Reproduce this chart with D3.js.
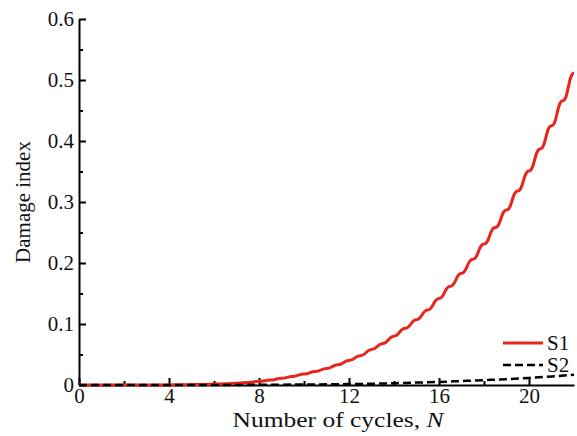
<!DOCTYPE html>
<html>
<head>
<meta charset="utf-8">
<script src="https://cdn.jsdelivr.net/npm/d3@7"></script>
<style>
  body { margin: 0; background: #fff; }
  svg text { font-family: "Liberation Serif", "Times New Roman", "DejaVu Serif", serif !important; }
</style>
</head>
<body>
<svg id="chart" width="577" height="436"></svg>
<script>
// cycles, every half cycle (S1 rises in steps each half cycle)
const cyclesS1 = [0, 0.5, 1, 1.5, 2, 2.5, 3, 3.5, 4, 4.5, 5, 5.5, 6, 6.5, 7, 7.5, 8, 8.5, 9, 9.5,
  10, 10.5, 11, 11.5, 12, 12.5, 13, 13.5, 14, 14.5, 15, 15.5, 16, 16.5, 17, 17.5, 18, 18.5, 19, 19.5,
  20, 20.5, 21, 21.5, 22];
const damageS1 = [0, 0, 0, 0, 0, 0, 0, 0.0001, 0.0002, 0.0004, 0.0007, 0.001, 0.0015, 0.002, 0.003, 0.004,
  0.006, 0.008, 0.011, 0.014, 0.018, 0.022, 0.027, 0.033, 0.04, 0.048, 0.058, 0.068, 0.08, 0.093,
  0.107, 0.123, 0.142, 0.162, 0.183, 0.206, 0.231, 0.258, 0.287, 0.318, 0.351, 0.387, 0.425, 0.466, 0.511];

const cyclesS2 = [0, 2, 4, 6, 8, 10, 12, 13, 14, 15, 16, 17, 18, 19, 20, 21, 22];
const damageS2 = [0, 0, 0, 0, 0.0003, 0.0008, 0.0015, 0.002, 0.003, 0.004, 0.005, 0.0065, 0.008, 0.0095, 0.0115, 0.014, 0.017];

const xTicks = [0, 4, 8, 12, 16, 20];
const xMinor = [2, 6, 10, 14, 18];
const yTicks = [0, 0.1, 0.2, 0.3, 0.4, 0.5, 0.6];
const yMinor = [0.05, 0.15, 0.25, 0.35, 0.45, 0.55];
const seriesNames = ["S1", "S2"];

const serif = "'Liberation Serif', 'Times New Roman', 'DejaVu Serif', serif";
const svg = d3.select("#chart");

const x = d3.scaleLinear().domain([0, 22]).range([79, 574]);
const y = d3.scaleLinear().domain([0, 0.6]).range([385, 19]);

// axes, ticks point inwards
svg.append("g")
  .attr("transform", "translate(0,385)")
  .call(d3.axisBottom(x).tickValues(xTicks).tickSizeInner(-7).tickSizeOuter(0).tickPadding(3));
svg.append("g")
  .attr("transform", "translate(0,385)")
  .call(d3.axisBottom(x).tickValues(xMinor).tickSizeInner(-4).tickSizeOuter(0).tickFormat(""))
  .select(".domain").remove();

svg.append("g")
  .attr("transform", "translate(79,0)")
  .call(d3.axisLeft(y).tickValues(yTicks).tickSizeInner(-7).tickSizeOuter(0).tickPadding(5)
    .tickFormat((d) => (d === 0 ? "0" : d.toFixed(1))));
svg.append("g")
  .attr("transform", "translate(79,0)")
  .call(d3.axisLeft(y).tickValues(yMinor).tickSizeInner(-4).tickSizeOuter(0).tickFormat(""))
  .select(".domain").remove();

svg.selectAll("g").attr("font-family", serif);
svg.selectAll(".domain, .tick line").attr("stroke", "#000").attr("stroke-width", 2);
svg.selectAll(".tick text")
  .attr("font-family", serif)
  .attr("font-size", 21)
  .attr("fill", "#111");

// axis titles
const xTitle = svg.append("text")
  .attr("x", 338)
  .attr("y", 427)
  .attr("text-anchor", "middle")
  .attr("font-family", serif)
  .attr("font-size", 22)
  .attr("textLength", 211)
  .attr("lengthAdjust", "spacingAndGlyphs")
  .attr("fill", "#111");
xTitle.append("tspan").text("Number of cycles, ");
xTitle.append("tspan").attr("font-style", "italic").text("N");

svg.append("text")
  .attr("transform", "translate(30,202) rotate(-90)")
  .attr("text-anchor", "middle")
  .attr("font-family", serif)
  .attr("font-size", 21)
  .attr("fill", "#111")
  .text("Damage index");

// series
const lineS1 = d3.line()
  .x((d) => x(d[0]))
  .y((d) => y(d[1]))
  .curve(d3.curveBumpX);

const lineS2 = d3.line()
  .x((d) => x(d[0]))
  .y((d) => y(d[1]))
  .curve(d3.curveMonotoneX);

svg.append("path")
  .datum(d3.zip(cyclesS1, damageS1))
  .attr("fill", "none")
  .attr("stroke", "#e8261b")
  .attr("stroke-width", 3)
  .attr("d", lineS1);

svg.append("path")
  .datum(d3.zip(cyclesS2, damageS2))
  .attr("fill", "none")
  .attr("stroke", "#000")
  .attr("stroke-width", 2.5)
  .attr("stroke-dasharray", "8,4")
  .attr("d", lineS2);

// legend
const legend = svg.append("g").attr("transform", "translate(503,343)");
const legendStyles = [
  { color: "#e8261b", dash: null, width: 3 },
  { color: "#000", dash: "8,4", width: 2.5 },
];
legend.selectAll("line")
  .data(seriesNames)
  .enter()
  .append("line")
  .attr("x1", 0)
  .attr("x2", 40)
  .attr("y1", (d, i) => i * 22)
  .attr("y2", (d, i) => i * 22)
  .attr("stroke", (d, i) => legendStyles[i].color)
  .attr("stroke-width", (d, i) => legendStyles[i].width)
  .attr("stroke-dasharray", (d, i) => legendStyles[i].dash);
legend.selectAll("text")
  .data(seriesNames)
  .enter()
  .append("text")
  .attr("x", 44)
  .attr("y", (d, i) => i * 22 + 7)
  .attr("font-family", serif)
  .attr("font-size", 21)
  .attr("fill", "#111")
  .text((d) => d);
</script>
</body>
</html>
